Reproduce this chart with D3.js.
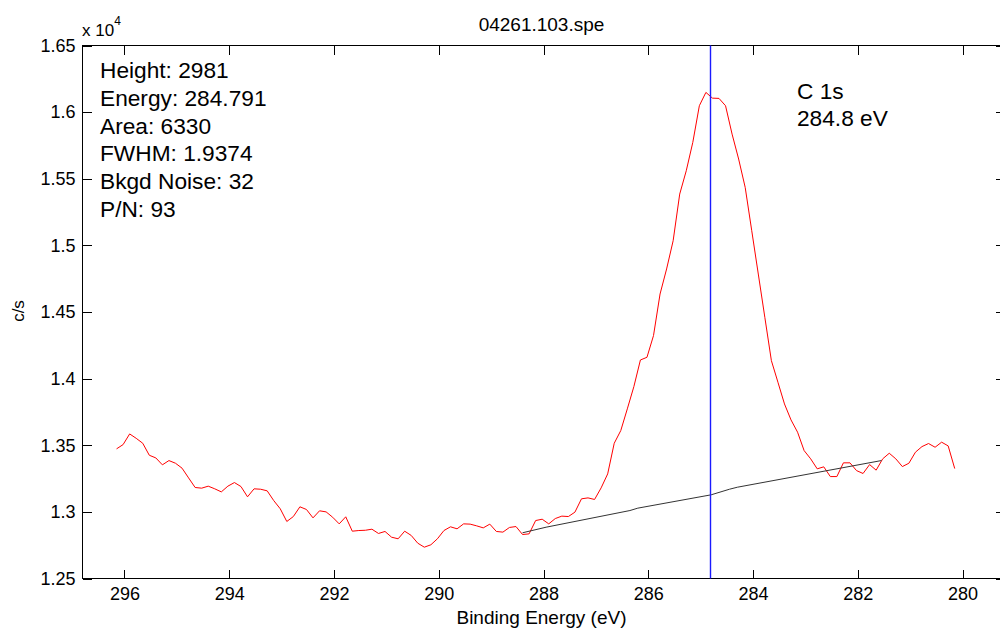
<!DOCTYPE html>
<html lang="en">
<head>
    <meta charset="UTF-8">
    <title>04261.103.spe</title>
    <script src="https://d3js.org/d3.v7.min.js"></script>
    <style>
        body { margin: 0; background: #fff; }
        #chart { display: block; font-family: "Liberation Sans", Arial, sans-serif; }
        .axis path { display: none; }
        .axis line { stroke: #000; shape-rendering: crispEdges; }
        .axis text { font-family: "Liberation Sans", Arial, sans-serif; font-size: 18px; fill: #000; }
    </style>
</head>
<body>
    <svg id="chart" width="1000" height="629"></svg>
    <script>
        // binding energy grid (eV) and counts per second
        const energies = [
            296.15, 296.025, 295.9, 295.775, 295.65, 295.525, 295.4, 295.275, 295.15, 295.025,
            294.9, 294.775, 294.65, 294.525, 294.4, 294.275, 294.15, 294.025, 293.9, 293.775,
            293.65, 293.525, 293.4, 293.275, 293.15, 293.025, 292.9, 292.775, 292.65, 292.525,
            292.4, 292.275, 292.15, 292.025, 291.9, 291.775, 291.65, 291.525, 291.4, 291.275,
            291.15, 291.025, 290.9, 290.775, 290.65, 290.525, 290.4, 290.275, 290.15, 290.025,
            289.9, 289.775, 289.65, 289.525, 289.4, 289.275, 289.15, 289.025, 288.9, 288.775,
            288.65, 288.525, 288.4, 288.275, 288.15, 288.025, 287.9, 287.775, 287.65, 287.525,
            287.4, 287.275, 287.15, 287.025, 286.9, 286.775, 286.65, 286.525, 286.4, 286.275,
            286.15, 286.025, 285.9, 285.775, 285.65, 285.525, 285.4, 285.275, 285.15, 285.025,
            284.9, 284.775, 284.65, 284.525, 284.4, 284.275, 284.15, 284.025, 283.9, 283.775,
            283.65, 283.525, 283.4, 283.275, 283.15, 283.025, 282.9, 282.775, 282.65, 282.525,
            282.4, 282.275, 282.15, 282.025, 281.9, 281.775, 281.65, 281.525, 281.4, 281.275,
            281.15, 281.025, 280.9, 280.775, 280.65, 280.525, 280.4, 280.275, 280.15
        ];
        const counts = [
            13473, 13505, 13585, 13552, 13515, 13425, 13405, 13353, 13385, 13365,
            13328, 13255, 13183, 13178, 13193, 13173, 13150, 13193, 13220, 13190,
            13113, 13173, 13170, 13158, 13085, 13023, 12928, 12965, 13038, 13018,
            12955, 13008, 13000, 12960, 12910, 12963, 12855, 12860, 12862, 12870,
            12838, 12853, 12810, 12798, 12855, 12823, 12765, 12735, 12753, 12798,
            12860, 12888, 12873, 12910, 12908, 12895, 12880, 12908, 12853, 12848,
            12883, 12890, 12830, 12835, 12935, 12945, 12910, 12950, 12968, 12965,
            12998, 13098, 13105, 13093, 13180, 13285, 13515, 13610, 13773, 13940,
            14140, 14160, 14323, 14635, 14823, 15035, 15385, 15560, 15773, 16048,
            16148, 16105, 16103, 16048, 15835, 15648, 15435, 15110, 14785, 14460,
            14135, 13973, 13810, 13690, 13598, 13460, 13398, 13323, 13338, 13265,
            13265, 13368, 13368, 13310, 13288, 13355, 13313, 13398, 13440, 13398,
            13340, 13365, 13448, 13490, 13513, 13485, 13523, 13495, 13325
        ];

        // background under the peak
        const bkgdEnergies = [288.4, 287.95, 286.35, 286.2, 284.8, 284.45, 284.3, 281.55];
        const bkgdCounts = [12843, 12885, 13010, 13028, 13128, 13170, 13185, 13385];

        const peakEnergy = 284.8;
        const xTicks = [296, 294, 292, 290, 288, 286, 284, 282, 280];
        const yTicks = [12500, 13000, 13500, 14000, 14500, 15000, 15500, 16000, 16500];
        const yTickLabels = ['1.25', '1.3', '1.35', '1.4', '1.45', '1.5', '1.55', '1.6', '1.65'];

        const statsLines = ['Height: 2981', 'Energy: 284.791', 'Area: 6330', 'FWHM: 1.9374', 'Bkgd Noise: 32', 'P/N: 93'];
        const peakLabel = ['C 1s', '284.8 eV'];

        const plotLeft = 82.5, plotRight = 1004.5, plotTop = 45.5, plotBottom = 578.5;

        const svg = d3.select('#chart');

        const x = d3.scaleLinear().domain([296.8, 279.2]).range([plotLeft, plotRight]);
        const y = d3.scaleLinear().domain([12500, 16500]).range([plotBottom, plotTop]);

        // axes, MATLAB style ticks pointing inward
        svg.append('g').attr('class', 'axis')
            .attr('transform', `translate(0,${plotBottom})`)
            .call(d3.axisBottom(x).tickValues(xTicks).tickSizeInner(-9).tickSizeOuter(0).tickPadding(9));
        svg.append('g').attr('class', 'axis')
            .attr('transform', `translate(0,${plotTop})`)
            .call(d3.axisTop(x).tickValues(xTicks).tickSizeInner(-9).tickSizeOuter(0).tickFormat(''));
        svg.append('g').attr('class', 'axis')
            .attr('transform', `translate(${plotLeft},0)`)
            .call(d3.axisLeft(y).tickValues(yTicks).tickSizeInner(-9).tickSizeOuter(0).tickPadding(7)
                .tickFormat((d, i) => yTickLabels[i]));
        svg.append('g').attr('class', 'axis')
            .attr('transform', `translate(${plotRight},0)`)
            .call(d3.axisRight(y).tickValues(yTicks).tickSizeInner(-9).tickSizeOuter(0).tickFormat(''));

        svg.append('rect')
            .attr('x', plotLeft).attr('y', plotTop)
            .attr('width', plotRight - plotLeft).attr('height', plotBottom - plotTop)
            .attr('fill', 'none').attr('stroke', '#000').attr('stroke-width', 1)
            .attr('shape-rendering', 'crispEdges');

        // spectrum
        const line = d3.line().x(d => x(d[0])).y(d => y(d[1]));
        svg.append('path')
            .datum(energies.map((e, i) => [e, counts[i]]))
            .attr('d', line)
            .attr('fill', 'none')
            .attr('stroke', '#ff0000')
            .attr('stroke-width', 1);

        svg.append('path')
            .datum(bkgdEnergies.map((e, i) => [e, bkgdCounts[i]]))
            .attr('d', line)
            .attr('fill', 'none')
            .attr('stroke', '#333')
            .attr('stroke-width', 1);

        // peak position marker
        const px = Math.round(x(peakEnergy)) - 0.5;
        svg.append('line')
            .attr('x1', px).attr('x2', px)
            .attr('y1', plotTop).attr('y2', plotBottom)
            .attr('stroke', '#1a1aff').attr('stroke-width', 1.4);

        // text
        svg.append('text')
            .attr('x', (plotLeft + plotRight) / 2 - 2).attr('y', 31)
            .attr('text-anchor', 'middle').attr('font-size', 19)
            .text('04261.103.spe');

        svg.append('text')
            .attr('x', (plotLeft + plotRight) / 2 - 2).attr('y', 624)
            .attr('text-anchor', 'middle').attr('font-size', 19)
            .text('Binding Energy (eV)');

        svg.append('text')
            .attr('transform', 'translate(24,311) rotate(-90)')
            .attr('text-anchor', 'middle').attr('font-size', 17)
            .text('c/s');

        const mult = svg.append('text').attr('x', 82).attr('y', 36).attr('font-size', 17);
        mult.append('tspan').text('x 10');
        mult.append('tspan').attr('font-size', 12).attr('dy', -11).text('4');

        svg.append('g').selectAll('text')
            .data(statsLines)
            .join('text')
            .attr('x', 100)
            .attr('y', (d, i) => 78 + i * 27.8)
            .attr('font-size', 22.7)
            .text(d => d);

        svg.append('g').selectAll('text')
            .data(peakLabel)
            .join('text')
            .attr('x', 797)
            .attr('y', (d, i) => 99 + i * 26.7)
            .attr('font-size', 22.7)
            .text(d => d);
    </script>
</body>
</html>
